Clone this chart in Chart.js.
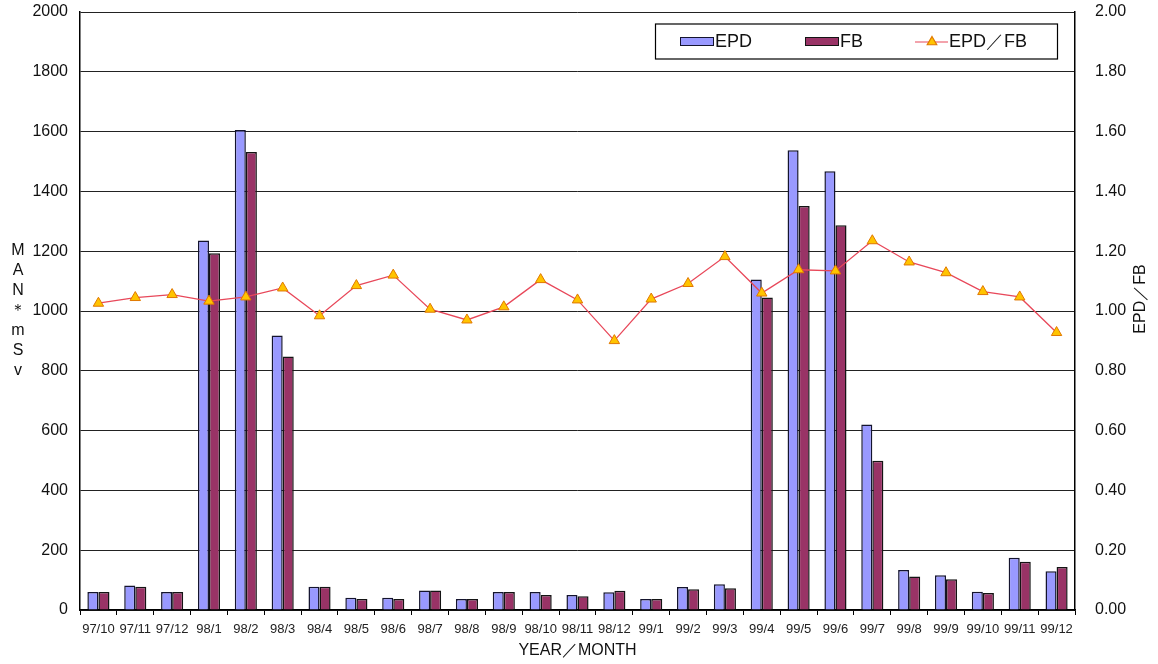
<!DOCTYPE html>
<html>
<head>
<meta charset="utf-8">
<script src="https://cdn.jsdelivr.net/npm/chart.js@4/dist/chart.umd.min.js"></script>
<style>
  html, body { margin: 0; padding: 0; background: #fff; }
  #wrap { width: 1158px; height: 664px; }
</style>
</head>
<body>
<div id="wrap"><canvas id="c" width="1158" height="664"></canvas></div>
<script>
// Monthly collective dose: EPD readings vs film badge (FB), and their ratio
const months = ['97/10','97/11','97/12','98/1','98/2','98/3','98/4','98/5','98/6','98/7','98/8','98/9',
                '98/10','98/11','98/12','99/1','99/2','99/3','99/4','99/5','99/6','99/7','99/8','99/9',
                '99/10','99/11','99/12'];
const epd = [60, 82, 60, 1236, 1605, 918, 78, 41, 41, 65, 37, 60,
             60, 50, 59, 37, 77, 86, 1105, 1538, 1467, 620, 134, 116,
             61, 175, 130];
const fb = [60, 78, 60, 1193, 1532, 848, 78, 37, 37, 65, 37, 60,
            50, 46, 64, 37, 69, 73, 1045, 1351, 1287, 499, 112, 103,
            57, 161, 144];
const ratio = [1.026, 1.045, 1.055, 1.033, 1.047, 1.077, 0.984, 1.085, 1.120, 1.006, 0.970, 1.014,
               1.105, 1.037, 0.901, 1.040, 1.092, 1.182, 1.060, 1.138, 1.134, 1.235, 1.164, 1.128,
               1.065, 1.047, 0.928];

const seriesNames = ['EPD', 'FB', 'EPD／FB'];
const leftTitle = 'MAN＊mSv';
const rightTitle = 'EPD／FB';
const bottomTitle = 'YEAR／MONTH';

const FONT = "'Liberation Sans', Arial, sans-serif";
const INK = '#111';

// Vertical stacked-letter title on the left, rotated title on the right
const sideTitles = {
  id: 'sideTitles',
  afterDraw(chart) {
    const { ctx, chartArea } = chart;
    const mid = (chartArea.top + chartArea.bottom) / 2;
    ctx.save();
    ctx.fillStyle = INK;
    ctx.font = '16px ' + FONT;
    ctx.textAlign = 'center';
    ctx.textBaseline = 'middle';
    const letters = Array.from(leftTitle);
    const step = 20;
    const y0 = mid - step * (letters.length - 1) / 2;
    letters.forEach((ch, i) => ctx.fillText(ch, 18, y0 + i * step));

    ctx.translate(1141, mid - 12);
    ctx.rotate(-Math.PI / 2);
    ctx.fillText(rightTitle, 0, 0);
    ctx.restore();
  }
};

// Boxed legend in the upper right of the plot
const boxLegend = {
  id: 'boxLegend',
  afterDraw(chart) {
    const { ctx, chartArea } = chart;
    const byLabel = name => chart.data.datasets.find(d => d.label === name);
    const right = chartArea.right - 18;
    const top = chartArea.top + 11.5;
    const w = 402, h = 35;
    const left = right - w;
    const cy = top + h / 2 + 1;
    ctx.save();
    ctx.fillStyle = '#fff';
    ctx.fillRect(left, top, w, h);
    ctx.strokeStyle = '#000';
    ctx.lineWidth = 1.2;
    ctx.strokeRect(left + 0.5, top + 0.5, w, h);

    ctx.font = '18px ' + FONT;
    ctx.textBaseline = 'middle';
    ctx.textAlign = 'left';

    // bar swatches
    [[seriesNames[0], left + 25], [seriesNames[1], left + 150]].forEach(([name, x]) => {
      const d = byLabel(name);
      ctx.fillStyle = d.backgroundColor;
      ctx.fillRect(x, cy - 5, 34, 9);
      ctx.strokeStyle = d.borderColor;
      ctx.lineWidth = 1;
      ctx.strokeRect(x + 0.5, cy - 4.5, 33, 8);
      ctx.fillStyle = INK;
      ctx.fillText(d.label, x + 35, cy);
    });

    // line + marker swatch
    const r = byLabel(seriesNames[2]);
    const lx = left + 260;
    ctx.strokeStyle = r.borderColor;
    ctx.lineWidth = 1.2;
    ctx.beginPath();
    ctx.moveTo(lx, cy);
    ctx.lineTo(lx + 33, cy);
    ctx.stroke();
    ctx.fillStyle = r.pointBackgroundColor;
    ctx.strokeStyle = r.pointBorderColor;
    Chart.helpers.drawPoint(ctx, { pointStyle: 'triangle', radius: 5.5, borderWidth: 1, rotation: 0 }, lx + 17, cy);
    ctx.fillStyle = INK;
    ctx.fillText(r.label, lx + 34, cy);
    ctx.restore();
  }
};

new Chart(document.getElementById('c'), {
  data: {
    labels: months,
    datasets: [
      {
        type: 'line',
        label: seriesNames[2],
        data: ratio,
        yAxisID: 'y1',
        order: 0,
        borderColor: '#E8485A',
        borderWidth: 1.3,
        pointStyle: 'triangle',
        pointRadius: 6,
        pointBackgroundColor: '#FFC400',
        pointBorderColor: '#E07800',
        pointBorderWidth: 1,
        tension: 0
      },
      {
        type: 'bar',
        label: seriesNames[0],
        data: epd,
        yAxisID: 'y',
        order: 1,
        backgroundColor: '#9999FF',
        borderColor: '#14142e',
        borderWidth: { top: 1.5, left: 1.5, right: 1.5, bottom: 0 },
        borderSkipped: false,
        categoryPercentage: 0.6,
        barPercentage: 1.0
      },
      {
        type: 'bar',
        label: seriesNames[1],
        data: fb,
        yAxisID: 'y',
        order: 1,
        backgroundColor: '#993366',
        borderColor: '#141414',
        borderWidth: { top: 1.5, left: 1.5, right: 1.5, bottom: 0 },
        borderSkipped: false,
        categoryPercentage: 0.6,
        barPercentage: 1.0
      }
    ]
  },
  options: {
    responsive: false,
    animation: false,
    devicePixelRatio: 1,
    layout: { padding: { left: 0, right: 0, top: 12, bottom: 0 } },
    plugins: {
      legend: { display: false },
      tooltip: { enabled: false }
    },
    scales: {
      x: {
        position: 'bottom',
        offset: true,
        grid: {
          offset: true,
          drawOnChartArea: false,
          drawTicks: true,
          tickLength: 5,
          color: '#000'
        },
        border: { display: true, color: '#000', width: 1.5 },
        ticks: {
          autoSkip: false,
          maxRotation: 0,
          minRotation: 0,
          padding: 7,
          color: '#222',
          font: { family: FONT, size: 13 }
        },
        title: {
          display: true,
          text: bottomTitle,
          color: INK,
          font: { family: FONT, size: 16 },
          padding: { top: 0, bottom: 4 }
        },
        afterFit(scale) { scale.height = 54; }
      },
      y: {
        position: 'left',
        min: 0,
        max: 2000,
        ticks: {
          stepSize: 200,
          padding: 2,
          color: INK,
          font: { family: FONT, size: 16 },
          callback: v => String(v)
        },
        grid: { color: '#222', lineWidth: 1, drawTicks: true, tickLength: 10, tickColor: 'rgba(0,0,0,0)' },
        border: { display: true, color: '#000', width: 1.5 },
        afterFit(scale) { scale.width = 80; }
      },
      y1: {
        position: 'right',
        min: 0,
        max: 2,
        ticks: {
          stepSize: 0.2,
          padding: 2,
          color: INK,
          font: { family: FONT, size: 16 },
          callback: v => Number(v).toFixed(2)
        },
        grid: { drawOnChartArea: false, drawTicks: true, tickLength: 18, tickColor: 'rgba(0,0,0,0)' },
        border: { display: true, color: '#000', width: 1.5 },
        afterFit(scale) { scale.width = 83; }
      }
    }
  },
  plugins: [sideTitles, boxLegend]
});
</script>
</body>
</html>
